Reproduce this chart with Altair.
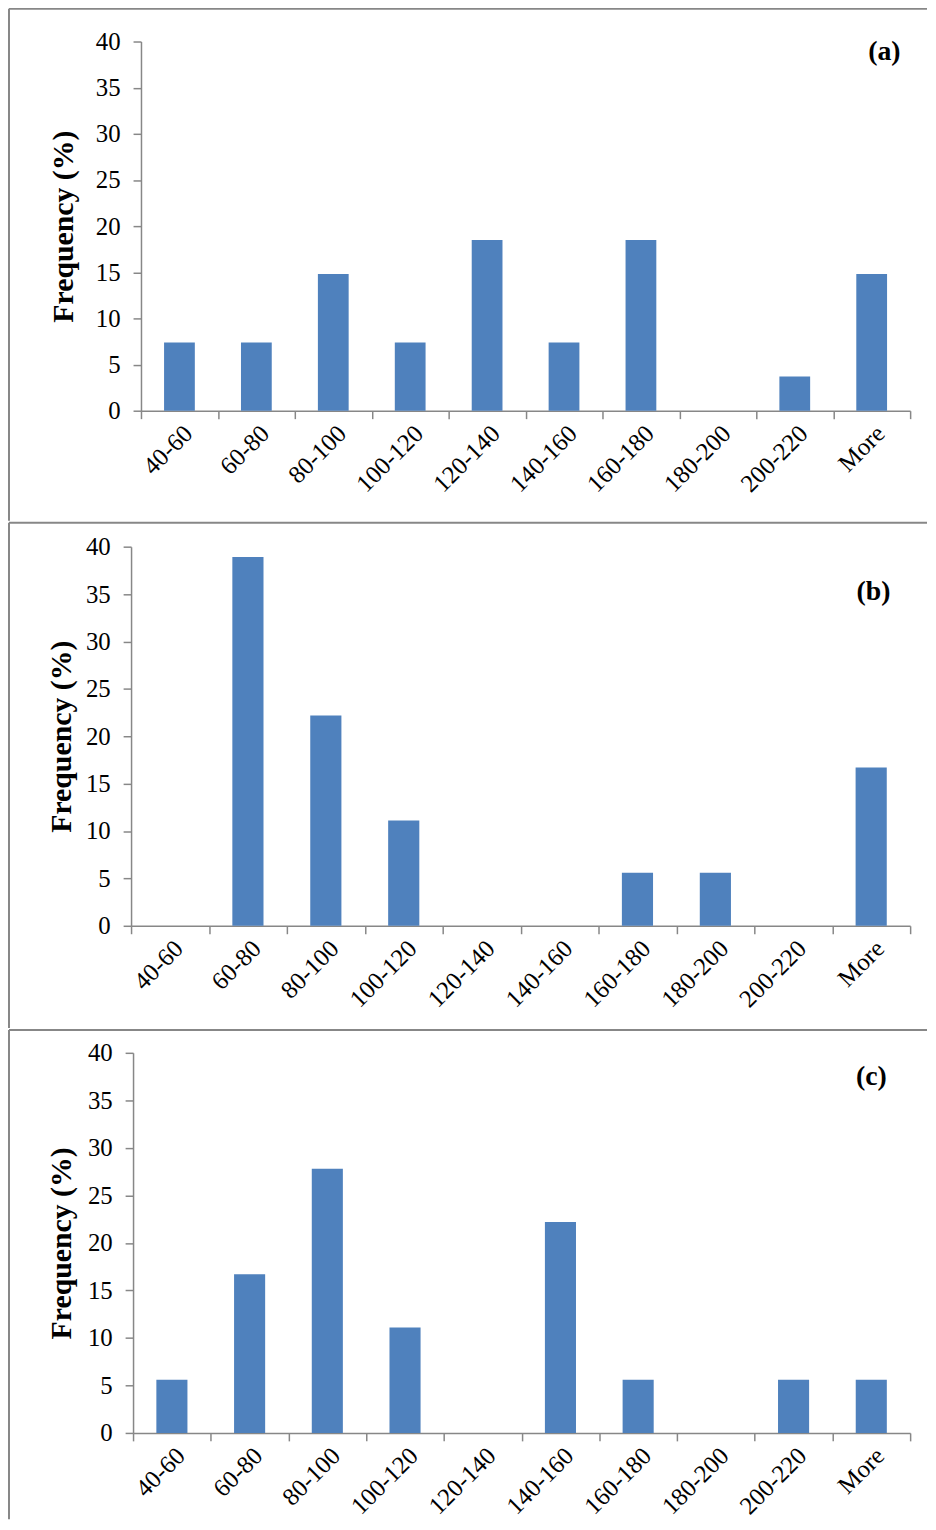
import altair as alt
import pandas as pd

cats = ["40-60", "60-80", "80-100", "100-120", "120-140", "140-160",
        "160-180", "180-200", "200-220", "More"]
freq_a = [7.4, 7.4, 14.8, 7.4, 18.5, 7.4, 18.5, 0, 3.7, 14.8]
freq_b = [0, 38.9, 22.2, 11.1, 0, 0, 5.6, 5.6, 0, 16.7]
freq_c = [5.6, 16.7, 27.8, 11.1, 0, 22.2, 5.6, 0, 5.6, 5.6]
panel_labels = ["(a)", "(b)", "(c)"]
y_ticks = [0, 5, 10, 15, 20, 25, 30, 35, 40]

FONT = "Liberation Serif"
GRAY = "#878787"
W = 775


def panel(vals, label, height, shift, ftop, fbot, lx, ly, tpad):
    df = pd.DataFrame({"cat": cats, "freq": vals})
    one = pd.DataFrame({"k": [0]})
    bars = alt.Chart(df).mark_bar(color="#4F81BD", width=alt.RelativeBandSize(0.4)).encode(
        x=alt.X("cat:N", sort=cats,
                scale=alt.Scale(range=[-shift, W], paddingInner=0, paddingOuter=0),
                axis=alt.Axis(title=None, labelAngle=-45, tickBand="extent",
                              tickSize=8, labelPadding=2, labelFontSize=25)),
        y=alt.Y("freq:Q", scale=alt.Scale(domain=[0, 40]),
                axis=alt.Axis(title="Frequency (%)", values=y_ticks, offset=shift,
                              tickSize=8, labelPadding=13, labelFontSize=25,
                              titleFontSize=30, titleFontWeight="bold",
                              titlePadding=tpad)),
    )
    top = alt.Chart(one).mark_rule(color=GRAY, strokeWidth=2).encode(
        x=alt.value(-133), x2=alt.value(W + 17), y=alt.value(ftop))
    left = alt.Chart(one).mark_rule(color=GRAY, strokeWidth=2).encode(
        x=alt.value(-133), y=alt.value(ftop), y2=alt.value(fbot))
    txt = alt.Chart(one).mark_text(font=FONT, fontSize=28, fontWeight="bold",
                                   color="black", align="center",
                                   baseline="middle").encode(
        x=alt.value(lx), y=alt.value(ly), text=alt.value(label))
    return alt.layer(bars, top, left, txt).properties(width=W, height=height)


pa = panel(freq_a, panel_labels[0], 372, 0, -33, 483, 749, 11, 17)
pb = panel(freq_b, panel_labels[1], 382, 10, -24, 485, 738, 46, 9)
pc = panel(freq_c, panel_labels[2], 383, 8, -23, 470, 736, 24, 11)

chart = alt.vconcat(pa, pb, pc, spacing=0).properties(
    padding={"left": 0, "top": -6, "right": 0, "bottom": 0}
).configure_view(stroke=None).configure_axis(
    labelFont=FONT, titleFont=FONT, labelColor="black", titleColor="black",
    domainColor=GRAY, tickColor=GRAY, domainWidth=1.5, tickWidth=1.5, grid=False
)

chart.save("out.html", embed_options={"renderer": "svg", "actions": False})
